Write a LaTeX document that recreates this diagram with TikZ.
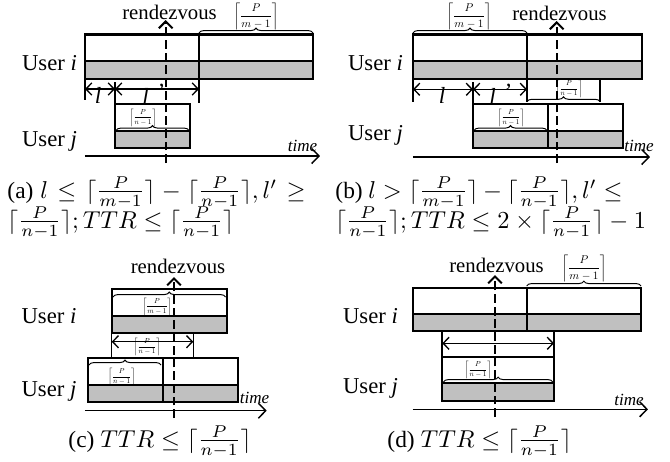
\documentclass[tikz,border=0pt]{standalone}
\usepackage{amsmath}
\usepackage{fontspec}
\setmainfont{Liberation Serif}
\usetikzlibrary{arrows.meta,decorations.pathreplacing}
\definecolor{slotgray}{RGB}{192,192,192}
% slot: x1 x2 ytop ymid ybot
\newcommand\slotpair[5]{%
  \draw[boxline] (#1,#3) rectangle (#2,#4);
  \draw[boxline,fill=slotgray] (#1,#4) rectangle (#2,#5);}
\newcommand\ceilm{$\left\lceil\dfrac{P}{m-1}\right\rceil$}
\newcommand\ceiln{$\left\lceil\dfrac{P}{n-1}\right\rceil$}
\tikzset{
  boxline/.style={line width=0.85pt},
  ticks/.style={line width=0.55pt},
  dimarrow/.style={line width=0.55pt,{Straight Barb[length=2.4pt,width=5pt]}-{Straight Barb[length=2.4pt,width=5pt]}},
  timeaxis/.style={line width=0.6pt,-{Straight Barb[length=3pt,width=6.2pt]}},
  meet/.style={line width=0.85pt,dash pattern=on 3.6pt off 1.6pt,-{Straight Barb[length=2.8pt,width=5.6pt]}},
  bracedec/.style={line width=0.4pt,decorate,decoration={brace,amplitude=2pt}},
  userlbl/.style={font=\fontsize{9.3}{11}\selectfont,inner sep=0,anchor=base},
  rdvlbl/.style={font=\fontsize{8.5}{10}\selectfont,inner sep=0,anchor=base},
  timelbl/.style={font=\fontsize{7}{8}\selectfont\itshape,inner sep=0,anchor=base},
  llbl/.style={font=\fontsize{9.5}{10}\selectfont\itshape,inner sep=0},
  biglbl/.style={scale=0.46,inner sep=0},
  smalllbl/.style={scale=0.3,inner sep=0},
  caplbl/.style={font=\fontsize{9.6}{11.5}\selectfont,inner sep=0,anchor=base west},
}
\begin{document}
\begin{tikzpicture}[x=0.41pt,y=-0.41pt]
\useasboundingbox (0,0) rectangle (670,461);
% ================= (a) =================
\slotpair{85}{199}{34.5}{61.3}{78.7}
\slotpair{199}{313}{34.5}{61.3}{78.7}
\slotpair{115}{190}{104}{131}{148}
\draw[bracedec] (199,33) -- (313,33);
\node[biglbl] (a-mlab) at (256,16.5) {\ceilm};
\draw[bracedec] (116,130.5) -- (189,130.5);
\node[smalllbl] (a-nlab) at (143,117.5) {\ceiln};
\node[userlbl] (a-ui) at (49.5,70) {User \textit{i}};
\node[userlbl] (a-uj) at (49.5,146) {User \textit{j}};
\coordinate (a-d0) at (85,89); \coordinate (a-d1) at (115,89); \coordinate (a-d2) at (199,89);
\draw[ticks] (85,78.7) -- (85,100);
\draw[ticks] (115,82) -- (115,104);
\draw[ticks] (199,78.7) -- (199,103);
\draw[dimarrow] (a-d0) -- (a-d1);
\draw[dimarrow] (a-d1) -- (a-d2);
\node[llbl] (a-l1) at (98,95) {l};
\node[llbl] (a-l2) at (153,94.5) {l\hspace{3pt}\raisebox{2pt}{'}};
\coordinate (a-t0) at (85,156); \coordinate (a-t1) at (320,156);
\draw[timeaxis] (a-t0) -- (a-t1);
\node[timelbl] (a-time) at (302.5,151) {time};
\coordinate (a-r0) at (165.7,163); \coordinate (a-r1) at (165.7,20);
\draw[meet] (a-r0) -- (a-r1);
\node[rdvlbl] (a-rdv) at (169.5,19.3) {rendezvous};
% ================= (b) =================
\slotpair{413}{527}{34.5}{61.3}{78.7}
\slotpair{527}{642}{34.5}{61.3}{78.7}
\slotpair{473}{548}{104.3}{131}{148.3}
\slotpair{548}{623}{104.3}{131}{148.3}
\draw[bracedec] (413,33) -- (527,33);
\node[biglbl] (b-mlab) at (469,16.5) {\ceilm};
\draw[ticks] (600,78.7) -- (600,101.7);
\draw[bracedec] (527,101.7) -- (600,101.7);
\node[smalllbl] (b-nlab1) at (569,89) {\ceiln};
\draw[bracedec] (474,130.5) -- (547,130.5);
\node[smalllbl] (b-nlab2) at (511,117.5) {\ceiln};
\node[userlbl] (b-ui) at (375.5,70) {User \textit{i}};
\node[userlbl] (b-uj) at (375.5,140) {User \textit{j}};
\coordinate (b-d0) at (413,89.3); \coordinate (b-d1) at (473,89.3); \coordinate (b-d2) at (527,89.3);
\draw[ticks] (413,78.7) -- (413,102);
\draw[ticks] (473,82) -- (473,104.3);
\draw[ticks] (527,78.7) -- (527,101.7);
\draw[dimarrow] (b-d0) -- (b-d1);
\draw[dimarrow] (b-d1) -- (b-d2);
\node[llbl] (b-l1) at (442,95) {l};
\node[llbl] (b-l2) at (500,94.5) {l\hspace{3pt}\raisebox{2pt}{'}};
\coordinate (b-t0) at (413,157); \coordinate (b-t1) at (650,157);
\draw[timeaxis] (b-t0) -- (b-t1);
\node[timelbl] (b-time) at (639,151) {time};
\coordinate (b-r0) at (556.7,163); \coordinate (b-r1) at (556.7,21);
\draw[meet] (b-r0) -- (b-r1);
\node[rdvlbl] (b-rdv) at (559.5,20) {rendezvous};
% ================= (c) =================
\slotpair{111.7}{226.7}{289.3}{316}{332.7}
\draw[bracedec] (113,297) -- (225.5,297);
\node[smalllbl] (c-mlab) at (157,306.5) {\ceilm};
\slotpair{87.7}{162.7}{358.3}{385}{402.3}
\slotpair{162.7}{238.3}{358.3}{385}{402.3}
\draw[bracedec] (89,365) -- (161,365);
\node[smalllbl] (c-nlab2) at (121.7,376.7) {\ceiln};
\node[userlbl] (c-ui) at (49,323) {User \textit{i}};
\node[userlbl] (c-uj) at (49,396.7) {User \textit{j}};
\coordinate (c-d0) at (111.7,341.7); \coordinate (c-d1) at (193.3,341.7);
\draw[ticks] (111.7,332.7) -- (111.7,358.3);
\draw[ticks] (193.3,332.7) -- (193.3,358.3);
\draw[dimarrow] (c-d0) -- (c-d1);
\node[smalllbl] (c-nlab1) at (147,347) {\ceiln};
\coordinate (c-t0) at (85,410.7); \coordinate (c-t1) at (266.7,410.7);
\draw[timeaxis] (c-t0) -- (c-t1);
\node[timelbl] (c-time) at (254.5,403) {time};
\coordinate (c-r0) at (174,418); \coordinate (c-r1) at (174,277);
\draw[meet] (c-r0) -- (c-r1);
\node[rdvlbl] (c-rdv) at (178,273.3) {rendezvous};
% ================= (d) =================
\slotpair{412.7}{526.7}{287.7}{314}{330.7}
\slotpair{526.7}{641}{287.7}{314}{330.7}
\draw[bracedec] (526.7,286) -- (641,286);
\node[biglbl] (d-mlab) at (584,268.5) {\ceilm};
\slotpair{442.3}{554}{357.3}{383.3}{401}
\draw[bracedec] (443.5,382) -- (552.8,382);
\node[smalllbl] (d-nlab) at (478,370) {\ceiln};
\node[userlbl] (d-ui) at (370.5,323) {User \textit{i}};
\node[userlbl] (d-uj) at (370.5,393) {User \textit{j}};
\coordinate (d-d0) at (442.3,343.3); \coordinate (d-d1) at (554,343.3);
\draw[boxline] (442.3,330.7) -- (442.3,357.3);
\draw[boxline] (554,330.7) -- (554,357.3);
\draw[dimarrow] (d-d0) -- (d-d1);
\coordinate (d-t0) at (412.7,409.3); \coordinate (d-t1) at (648,409.3);
\draw[timeaxis] (d-t0) -- (d-t1);
\node[timelbl] (d-time) at (629,405) {time};
\coordinate (d-r0) at (495,417); \coordinate (d-r1) at (495,275);
\draw[meet] (d-r0) -- (d-r1);
\node[rdvlbl] (d-rdv) at (496.5,272.5) {rendezvous};
% ================= captions =================
\node[caplbl] (cap-a1) at (7,198) {\hbox to 122.2pt{(a) $l \le \lceil\frac{P}{m-1}\rceil - \lceil\frac{P}{n-1}\rceil, l' \ge$}};
\node[caplbl] (cap-a2) at (7,228) {$\lceil\frac{P}{n-1}\rceil; TTR \le \lceil\frac{P}{n-1}\rceil$};
\node[caplbl] (cap-b1) at (335,198) {\hbox to 117.7pt{(b) $l > \lceil\frac{P}{m-1}\rceil - \lceil\frac{P}{n-1}\rceil, l' \le$}};
\node[caplbl] (cap-b2) at (335,228) {$\lceil\frac{P}{n-1}\rceil; TTR \le 2\times\lceil\frac{P}{n-1}\rceil - 1$};
\node[caplbl] (cap-c) at (68,447) {(c) $TTR \le \lceil\frac{P}{n-1}\rceil$};
\node[caplbl] (cap-d) at (387,447) {(d) $TTR \le \lceil\frac{P}{n-1}\rceil$};
\end{tikzpicture}
\end{document}
